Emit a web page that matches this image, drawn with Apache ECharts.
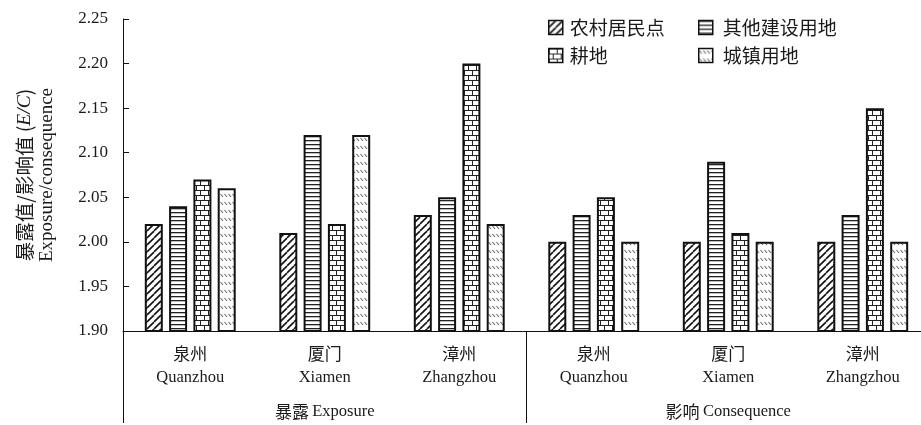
<!DOCTYPE html>
<html>
<head>
<meta charset="utf-8">
<script src="https://cdn.jsdelivr.net/npm/echarts@6/dist/echarts.min.js"></script>
<style>
  html, body { margin: 0; padding: 0; background: #fff; }
  #chart { width: 921px; height: 425px; }
</style>
</head>
<body>
<div id="chart"></div>
<script>
// Cities along the category axis (two groups: exposure, consequence)
const citiesZh = ['泉州', '厦门', '漳州', '泉州', '厦门', '漳州'];
const citiesEn = ['Quanzhou', 'Xiamen', 'Zhangzhou', 'Quanzhou', 'Xiamen', 'Zhangzhou'];
const groupLabels = ['暴露 Exposure', '影响 Consequence'];

// Land-use types
const seriesNames = ['农村居民点', '其他建设用地', '耕地', '城镇用地'];

// E/C values per land-use type, one value per category
const ruralSettlement = [2.02, 2.01, 2.03, 2.00, 2.00, 2.00];
const otherConstruction = [2.04, 2.12, 2.05, 2.03, 2.09, 2.03];
const farmland = [2.07, 2.02, 2.20, 2.05, 2.01, 2.15];
const urbanLand = [2.06, 2.12, 2.02, 2.00, 2.00, 2.00];

// Y axis range
const yMin = 1.90, yMax = 2.25, yStep = 0.05;

// ---- fill patterns ----
function tile(w, h, draw) {
  const c = document.createElement('canvas');
  c.width = w; c.height = h;
  const ctx = c.getContext('2d');
  ctx.fillStyle = '#fff';
  ctx.fillRect(0, 0, w, h);
  draw(ctx, w, h);
  return c;
}
const diagTile = tile(7, 7, (ctx, w, h) => {
  ctx.strokeStyle = '#111';
  ctx.lineWidth = 1.6;
  for (const o of [-w, 0, w]) {
    ctx.beginPath();
    ctx.moveTo(o, h);
    ctx.lineTo(o + w, 0);
    ctx.stroke();
  }
});
const hLineTile = tile(4, 4, (ctx, w) => {
  ctx.fillStyle = '#222';
  ctx.fillRect(0, 0, w, 1.3);
});
const brickTile = tile(8, 10, (ctx, w, h) => {
  ctx.fillStyle = '#222';
  ctx.fillRect(0, 0, w, 1);
  ctx.fillRect(0, 5, w, 1);
  ctx.fillRect(0, 0, 1, 5);
  ctx.fillRect(4, 5, 1, 5);
});
const waveTile = tile(4, 8, (ctx) => {
  ctx.strokeStyle = '#666';
  ctx.lineWidth = 1.1;
  ctx.beginPath();
  ctx.moveTo(0.5, 2);
  ctx.lineTo(3, 5);
  ctx.stroke();
});
const patterns = [diagTile, hLineTile, brickTile, waveTile].map(img => ({ image: img, repeat: 'repeat' }));
const seriesData = [ruralSettlement, otherConstruction, farmland, urbanLand];

const serif = '"Liberation Serif", "Times New Roman", serif';
const cjk = '"Noto Sans CJK SC", "Liberation Serif", serif';

const chart = echarts.init(document.getElementById('chart'), null, { renderer: 'canvas' });

const option = {
  animation: false,
  backgroundColor: '#fff',
  grid: { left: 123, top: 19, bottom: 94, right: -9, containLabel: false, outerBoundsMode: 'none' },
  legend: [
    {
      data: [seriesNames[0], seriesNames[2]],
      orient: 'vertical', left: 543, top: 13,
      itemWidth: 14, itemHeight: 14, itemGap: 9, icon: 'rect',
      itemStyle: { borderColor: '#111', borderWidth: 1.5 },
      textStyle: { fontFamily: cjk, fontSize: 19, color: '#1a1a1a', padding: [0, 0, 0, 2] }
    },
    {
      data: [seriesNames[1], seriesNames[3]],
      orient: 'vertical', left: 693, top: 13,
      itemWidth: 14, itemHeight: 14, itemGap: 9, icon: 'rect',
      itemStyle: { borderColor: '#111', borderWidth: 1.5 },
      textStyle: { fontFamily: cjk, fontSize: 19, color: '#1a1a1a', padding: [0, 0, 0, 5] }
    }
  ],
  xAxis: [
    {
      type: 'category',
      data: citiesZh.map((c, i) => c + '-' + i),
      axisLine: { lineStyle: { color: '#111', width: 1 } },
      axisTick: { show: false },
      axisLabel: {
        margin: 11,
        interval: 0,
        formatter: (v, i) => '{zh|' + citiesZh[i] + '}\n{en|' + citiesEn[i] + '}',
        rich: {
          zh: { fontFamily: cjk, fontSize: 17, color: '#1a1a1a', lineHeight: 24 },
          en: { fontFamily: serif, fontSize: 16.5, color: '#1a1a1a', lineHeight: 24 }
        }
      }
    },
    {
      type: 'category',
      position: 'bottom',
      offset: 92,
      data: groupLabels,
      axisLine: { show: false },
      axisTick: { show: true, inside: true, length: 92, lineStyle: { color: '#111', width: 1 } },
      axisLabel: {
        inside: true,
        margin: 3,
        interval: 0,
        formatter: (v) => {
          const k = v.indexOf(' ');
          return '{zh|' + v.slice(0, k) + '} {en|' + v.slice(k + 1) + '}';
        },
        rich: {
          zh: { fontFamily: cjk, fontSize: 17, color: '#1a1a1a' },
          en: { fontFamily: serif, fontSize: 16.5, color: '#1a1a1a' }
        }
      }
    }
  ],
  yAxis: {
    type: 'value',
    min: yMin, max: yMax, interval: yStep,
    splitLine: { show: false },
    axisLine: { show: true, lineStyle: { color: '#111', width: 1 } },
    axisTick: { show: true, inside: true, length: 6, lineStyle: { color: '#111' } },
    axisLabel: {
      margin: 15,
      fontFamily: serif, fontSize: 17, color: '#1a1a1a',
      formatter: v => v.toFixed(2)
    },
    name: '{zh|暴露值/影响值 (}{it|E/C}{zh|)}\n{en|Exposure/consequence}',
    nameLocation: 'middle',
    nameRotate: 90,
    nameGap: 64,
    nameTextStyle: {
      align: 'center',
      rich: {
        zh: { fontFamily: cjk, fontSize: 19.5, color: '#1a1a1a', lineHeight: 23 },
        it: { fontFamily: serif, fontStyle: 'italic', fontSize: 19.5, color: '#1a1a1a', lineHeight: 23 },
        en: { fontFamily: serif, fontSize: 19, color: '#1a1a1a', lineHeight: 23 }
      }
    }
  },
  series: seriesNames.map((name, k) => ({
    name,
    type: 'bar',
    xAxisIndex: 0,
    data: seriesData[k],
    barWidth: 18,
    barGap: '35%',
    clip: true,
    itemStyle: { color: patterns[k], borderColor: '#111', borderWidth: 2 }
  }))
};

chart.setOption(option);
</script>
</body>
</html>
